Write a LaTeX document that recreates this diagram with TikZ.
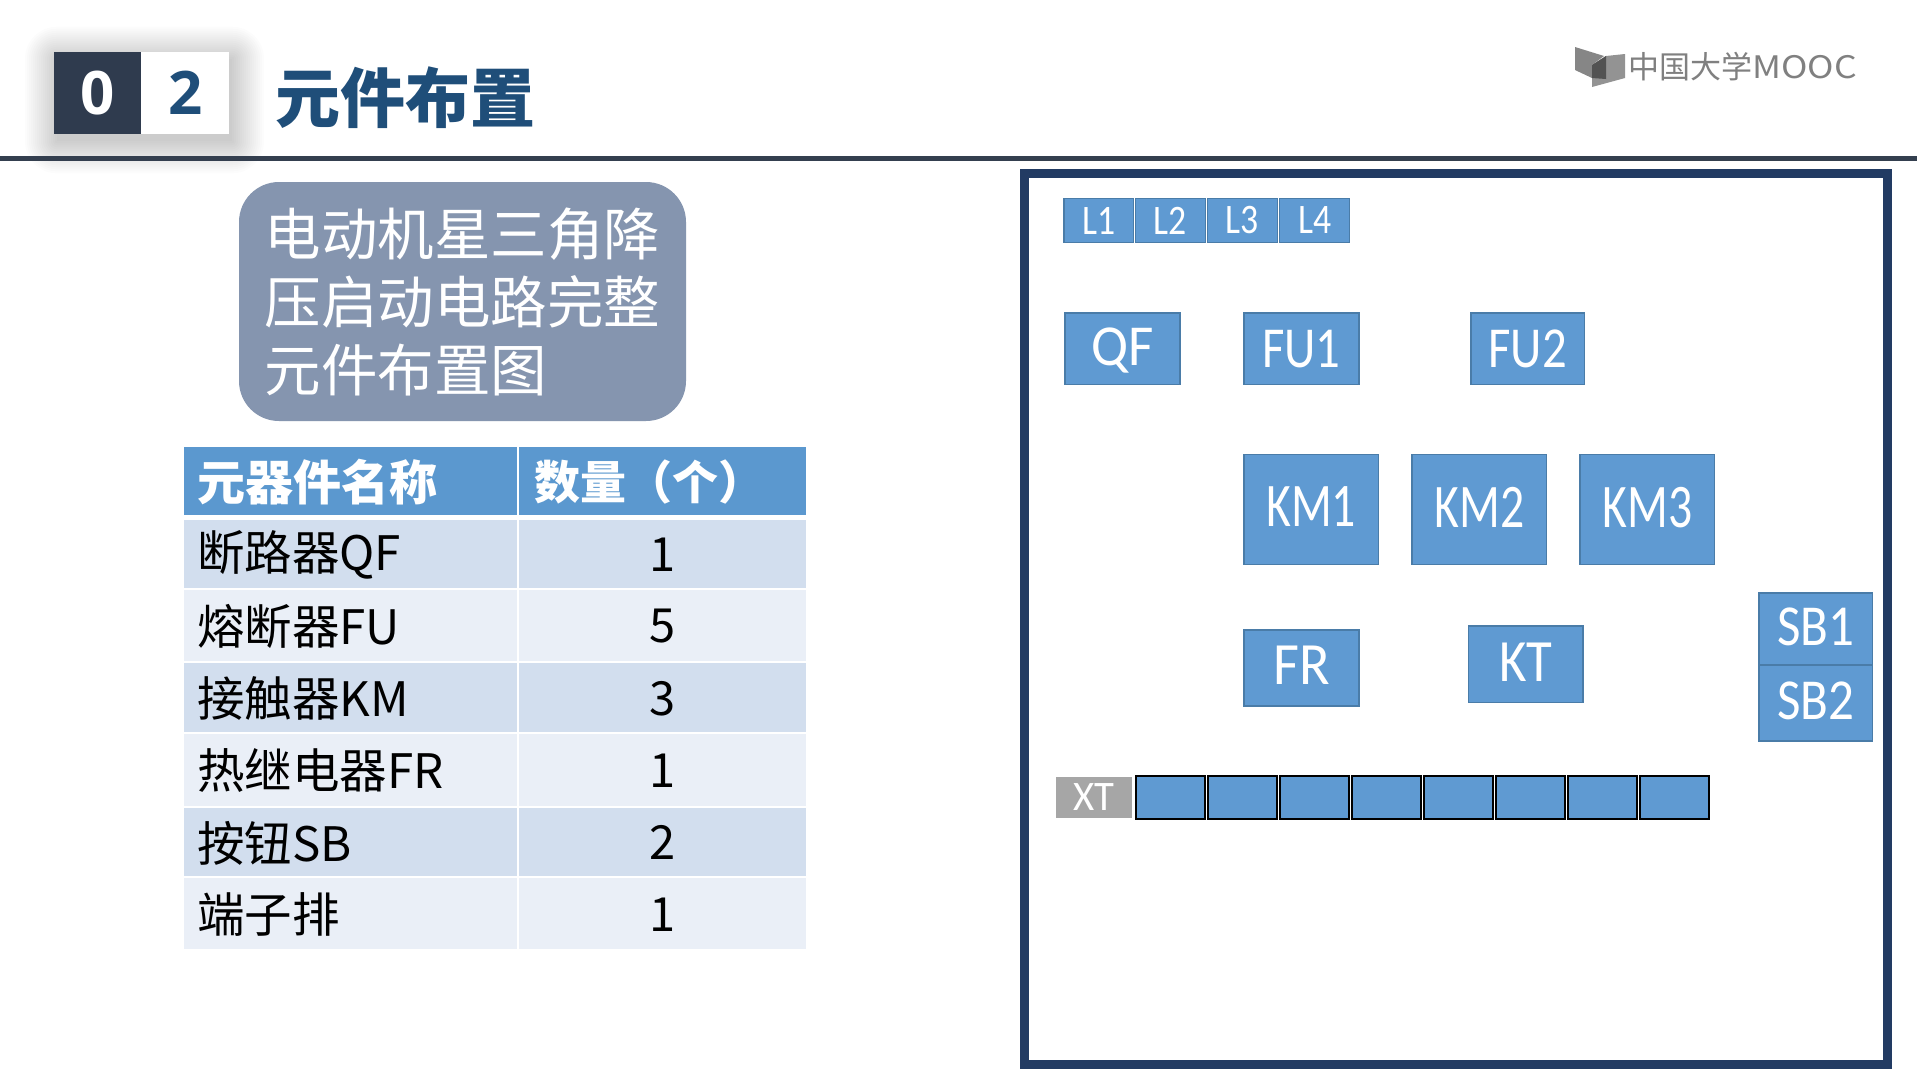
\documentclass[tikz,border=0pt]{standalone}
\usepackage{fontspec}
\setmainfont{Noto Sans CJK SC}
\newfontfamily\compfont{Carlito}
\newfontfamily\numfont{Open Sans}
\definecolor{blueA}{HTML}{5F9AD2}
\definecolor{edgeA}{HTML}{4A7CA8}
\definecolor{rowA}{HTML}{D2DEEE}
\definecolor{rowB}{HTML}{EAEFF7}
\definecolor{headA}{HTML}{5B98CF}
\definecolor{frameA}{HTML}{223B63}
\definecolor{ruleA}{HTML}{343F4F}
\definecolor{navyA}{HTML}{1F4E79}
\definecolor{darkA}{HTML}{2F3B4E}
\definecolor{slateA}{HTML}{8595AF}
\definecolor{grayA}{HTML}{A6A6A6}
\definecolor{logoA}{HTML}{808080}
\tikzset{
  compbox/.style={draw=edgeA,fill=blueA,line width=1.2pt,text=white,inner sep=0pt,outer sep=0pt},
  termbox/.style={draw=black,fill=blueA,line width=2pt,inner sep=0pt,outer sep=0pt},
  cellbox/.style={inner sep=0pt,outer sep=0pt,text=black},
}
\newcommand\labstrut{}
\newcommand\usedrop{\renewcommand\labstrut{\rule[-5pt]{0pt}{5pt}}}
% [x scale], x0, y0, x1, y1, font size, label, name
\newcommand\comp[8][.77]{%
  \pgfmathsetmacro\boxw{#4-#2}\pgfmathsetmacro\boxh{#5-#3}%
  \pgfmathsetmacro\boxx{(#2+#4)/2}\pgfmathsetmacro\boxy{(#3+#5)/2}%
  \node[compbox,minimum width=\boxw pt,minimum height=\boxh pt] (#8) at (\boxx,\boxy)
    {\labstrut\scalebox{#1}[1]{\compfont\fontsize{#6}{#6}\selectfont #7}};%
}
\newcommand\term[5]{%
  \pgfmathsetmacro\boxw{#4-#2}\pgfmathsetmacro\boxh{#5-#3}%
  \pgfmathsetmacro\boxx{(#2+#4)/2}\pgfmathsetmacro\boxy{(#3+#5)/2}%
  \node[termbox,minimum width=\boxw pt,minimum height=\boxh pt] (#1) at (\boxx,\boxy) {};%
}
% row: name, y0, y1, colour, left text, right text, text style
\newcommand\rowcells[7]{%
  \pgfmathsetmacro\boxh{#3-#2}\pgfmathsetmacro\boxy{(#2+#3)/2}%
  \node[cellbox,fill=#4,minimum width=333pt,minimum height=\boxh pt] (#1a) at (350.5,\boxy) {};%
  \node[cellbox,fill=#4,minimum width=287pt,minimum height=\boxh pt] (#1b) at (662.5,\boxy) {};%
  \node[cellbox,anchor=west,#7,font=\fontsize{47.5}{47.5}\selectfont] (#1c) at ([xshift=13pt,yshift=-1.5pt]#1a.west) {#5};%
  \node[cellbox,#7,font=\fontsize{47}{47}\selectfont] (#1d) at ([yshift=-1pt]#1b.center) {#6};%
}
\begin{document}
\begin{tikzpicture}[x=1pt,y=-1pt]
\useasboundingbox (0,0) rectangle (1920,1080);
\fill[white] (0,0) rectangle (1920,1080);
% soft shadow of the number badge
\foreach \g in {32,30,...,0}{
  \fill[black,opacity=.012,rounded corners=\g pt] (54+3-\g,51.7+7-\g) rectangle (229+3+\g,134.3+7+\g);
}
% rule
\fill[ruleA] (0,156) rectangle (1917,160.7);
% badge
\node[fill=darkA,inner sep=0pt,minimum width=87.3pt,minimum height=82.6pt,text=white,font=\numfont\bfseries\fontsize{60}{60}\selectfont] (zero) at (97.7,93) {0};
\node[fill=white,inner sep=0pt,minimum width=87.7pt,minimum height=82.6pt,text=navyA,font=\numfont\bfseries\fontsize{60}{60}\selectfont] (two) at (185.2,93) {2};
% title
\node[inner sep=0pt,anchor=west,text=navyA,font=\bfseries\fontsize{65}{65}\selectfont] (title) at (275,98) {元件布置};
% logo
\fill[logoA!95] (1575,47) -- (1604,56) -- (1592,65) -- (1592,78) -- (1575,70) -- cycle;
\fill[logoA!85] (1592,65) -- (1606,56) -- (1625,54) -- (1625,78) -- (1592,87) -- cycle;
\fill[black!68] (1592,65) -- (1606,56) -- (1606,79) -- (1592,78) -- cycle;
\node[inner sep=0pt,anchor=west,text=logoA,font=\fontsize{31}{31}\selectfont] (logo) at (1628,67) {中国大学\scalebox{1.15}[1]{MOOC}};
% caption box
\node[fill=slateA,rounded corners=40pt,minimum width=447pt,minimum height=239pt,inner sep=0pt,text=white,text width=396pt,align=left,font=\fontsize{56.5}{68}\selectfont] (cap) at (462.5,301.5) {电动机星三角降\\压启动电路完整\\元件布置图};
% table
\rowcells{hd}{446.5}{514.5}{headA}{\fontsize{48}{48}\selectfont\bfseries 元器件名称}{}{text=white}
\node[cellbox,anchor=west,text=white,font=\bfseries\fontsize{46}{46}\selectfont] (hdq) at ([xshift=15pt,yshift=-1.5pt]hdb.west) {数量（个）};
\rowcells{ra}{520}{587.5}{rowA}{断路器QF}{1}{}
\rowcells{rb}{589.5}{661}{rowB}{熔断器FU}{5}{}
\rowcells{rc}{663}{731.5}{rowA}{接触器KM}{3}{}
\rowcells{rd}{733.5}{805.5}{rowB}{热继电器FR}{1}{}
\rowcells{re}{807.5}{875.5}{rowA}{按钮SB}{2}{}
\rowcells{rf}{877.5}{949}{rowB}{端子排}{1}{}
% cabinet frame
\node[draw=frameA,line width=9pt,inner sep=0pt,minimum width=863pt,minimum height=891.5pt] (frame) at (1456,618.75) {};
% components
\comp[.85]{1064}{198.5}{1133.2}{242.5}{42}{L1}{la}
\comp[.85]{1135.6}{198.5}{1205.2}{242.5}{42}{L2}{lb}
\comp[.85]{1207.6}{198.5}{1277.4}{242.5}{42}{L3}{lc}
\comp[.85]{1279.6}{198.5}{1349.6}{242.5}{42}{L4}{ld}
\renewcommand\labstrut{\rule{0pt}{41pt}}
\comp[.95]{1065}{313}{1180}{384.5}{58}{QF}{qf}
\renewcommand\labstrut{}
\comp[.84]{1244}{313}{1359}{384.5}{58}{FU1}{fua}
\comp[.84]{1471}{313}{1584.5}{384.5}{58}{FU2}{fub}
\usedrop
\comp[.77]{1244}{454.5}{1378.5}{564.5}{62}{KM1}{kma}
\comp[.77]{1412}{454.5}{1546.5}{564.5}{62}{KM2}{kmb}
\comp[.77]{1580}{454.5}{1714.5}{564.5}{62}{KM3}{kmc}
\comp[.94]{1244}{630}{1359}{706}{60}{FR}{fr}
\comp[.88]{1468.5}{626}{1583}{702.5}{60}{KT}{kt}
\comp[.88]{1759}{593}{1872.5}{665}{58}{SB1}{sba}
\comp[.88]{1759}{665}{1872.5}{741}{58}{SB2}{sbb}
% terminal strip
\node[fill=grayA,inner sep=0pt,minimum width=76pt,minimum height=40.6pt,text=white] (xt) at (1093.8,797.2) {\scalebox{.97}[1]{\compfont\fontsize{42}{42}\selectfont XT}};
\term{ta}{1136}{775.5}{1204.7}{819}
\term{tb}{1208}{775.5}{1276.7}{819}
\term{tc}{1280}{775.5}{1348.7}{819}
\term{td}{1352}{775.5}{1420.7}{819}
\term{te}{1424}{775.5}{1492.7}{819}
\term{tf}{1496}{775.5}{1564.7}{819}
\term{tg}{1568}{775.5}{1636.7}{819}
\term{th}{1640}{775.5}{1708.7}{819}
\end{tikzpicture}
\end{document}
